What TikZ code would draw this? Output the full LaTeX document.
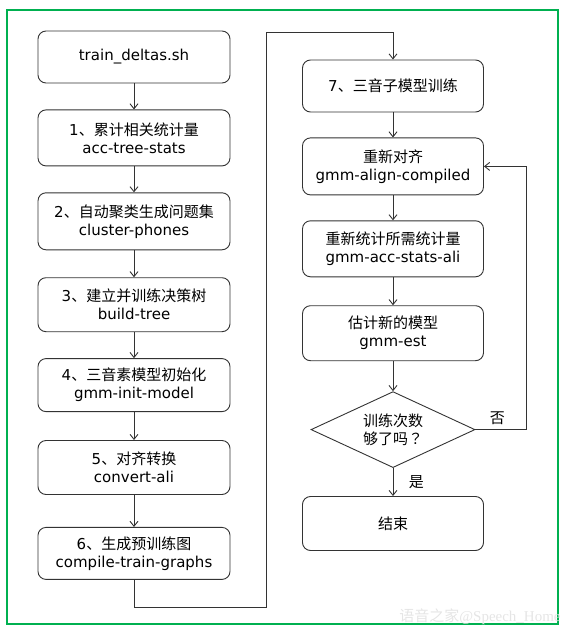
\documentclass[tikz,border=0pt]{standalone}
\usepackage{fontspec}
\setmainfont{DejaVu Sans}
\newfontfamily\cjk{Noto Sans CJK SC}
\newfontfamily\cjktc{Noto Sans CJK TC}
\newfontfamily\markfont{Liberation Serif}
\usetikzlibrary{positioning,arrows.meta,shapes.geometric}
\definecolor{framegreen}{RGB}{0,176,80}
\newcommand{\zh}[1]{{\cjk #1}}

\begin{document}
\begin{tikzpicture}[x=1pt, y=-1pt, font=\fontsize{15}{18}\selectfont, node distance=26pt,
  stepbox/.style={draw=black!80, rounded corners=8pt, align=center, inner sep=2pt, minimum height=54pt, minimum width=192pt, line width=0.9pt},
  rbox/.style={stepbox, minimum width=181pt},
  cond/.style={diamond, draw=black!80, aspect=2.16, minimum width=164pt, minimum height=76pt, inner sep=0pt, align=center, line width=0.9pt},
  arr/.style={-{Straight Barb[length=5pt, width=8pt]}, draw=black!80, line width=0.9pt}]
\useasboundingbox (0,0) rectangle (571,632);
\draw[framegreen, line width=2pt] (7,10) rectangle (558,624);
% left column
\node[stepbox, minimum height=52pt] (start) at (134,57) {train\_deltas.sh};
\node[stepbox, minimum height=56pt, below=of start] (acc) {1\zh{、累计相关统计量}\\acc-tree-stats};
\node[stepbox, minimum height=57pt, below=of acc] (cluster) {2\zh{、自动聚类生成问题集}\\cluster-phones};
\node[stepbox, below=27pt of cluster] (tree) {3\zh{、建立并训练决策树}\\build-tree};
\node[stepbox, minimum height=53pt, below=of tree] (init) {4\zh{、三音素模型初始化}\\gmm-init-model};
\node[stepbox, below=28pt of init] (convert) {5\zh{、对齐转换}\\convert-ali};
\node[stepbox, minimum height=52pt, below=32pt of convert] (graphs) {6\zh{、生成预训练图}\\compile-train-graphs};
% right column
\node[rbox, minimum height=52pt] (tri) at (393,86) {7\zh{、三音子模型训练}};
\node[rbox, minimum height=57pt, below=25pt of tri] (realign) {\zh{重新对齐}\\gmm-align-compiled};
\node[rbox, minimum height=56pt, below=25pt of realign] (stats) {\zh{重新统计所需统计量}\\gmm-acc-stats-ali};
\node[rbox, minimum height=55pt, below=28pt of stats] (est) {\zh{估计新的模型}\\gmm-est};
\node[cond, below=30pt of est] (enough) {\zh{训练次数}\\\zh{够了吗}{\cjktc ？}};
\node[rbox, below=28pt of enough] (finish) {\zh{结束}};
\coordinate (jump) at (266,32);
\draw[arr] (start) -- (acc); \draw[arr] (acc) -- (cluster); \draw[arr] (cluster) -- (tree);
\draw[arr] (tree) -- (init); \draw[arr] (init) -- (convert); \draw[arr] (convert) -- (graphs);
\draw[arr] (graphs.south) -- ++(0,28) -| (jump) -| (tri.north);
\draw[arr] (tri) -- (realign); \draw[arr] (realign) -- (stats); \draw[arr] (stats) -- (est);
\draw[arr] (est) -- (enough);
\draw[arr] (enough.east) -- node[pos=0.43, above, inner sep=4pt] (no) {\zh{否}} ++(51,0) |- (realign.east);
\draw[arr] (enough) -- node[midway, right, xshift=12pt] (yes) {\zh{是}} (finish);
\node[text=black!10, font=\fontsize{15}{15}\selectfont] (mark) at (480,617) {\zh{语音之家}{\markfont @Speech\_Home}};
\end{tikzpicture}
\end{document}
